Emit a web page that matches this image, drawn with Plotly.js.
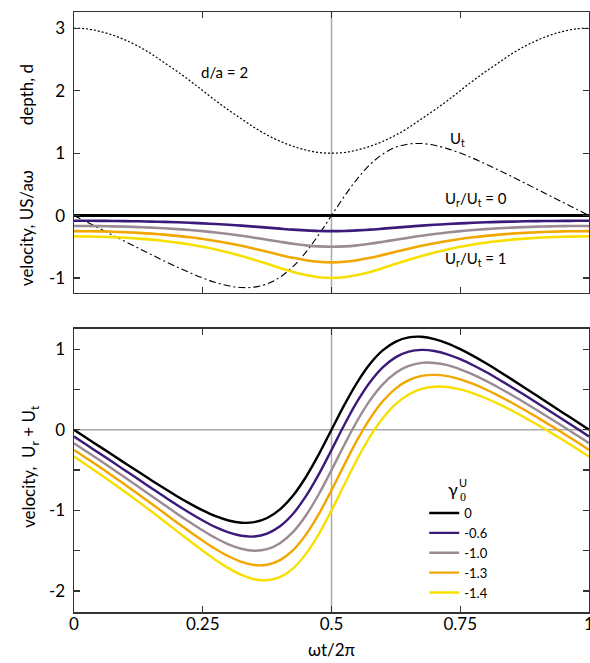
<!DOCTYPE html>
<html>
<head>
<meta charset="utf-8">
<script src="https://cdn.plot.ly/plotly-3.0.1.min.js"></script>
<style>html,body{margin:0;padding:0;background:#fff;}#chart{width:590px;height:663px;}</style>
</head>
<body>
<div id="chart"></div>
<script>
// phase omega t / 2 pi
const T = [0,0.025,0.05,0.075,0.1,0.125,0.15,0.175,0.2,0.225,0.25,0.275,0.3,0.325,0.35,0.375,0.4,0.425,0.45,0.475,0.5,0.525,0.55,0.575,0.6,0.625,0.65,0.675,0.7,0.725,0.75,0.775,0.8,0.825,0.85,0.875,0.9,0.925,0.95,0.975,1];

// top panel: depth d (dotted)
const depth = [3.00,2.99,2.95,2.89,2.81,2.71,2.59,2.45,2.31,2.16,2.00,1.84,1.69,1.55,1.41,1.29,1.19,1.11,1.05,1.01,1.00,1.01,1.05,1.11,1.19,1.29,1.41,1.55,1.69,1.84,2.00,2.16,2.31,2.45,2.59,2.71,2.81,2.89,2.95,2.99,3.00];

// tidal velocity U_t (dash-dot, also gamma = 0 in lower panel)
const Ut = [0,-0.105,-0.209,-0.314,-0.418,-0.522,-0.625,-0.726,-0.824,-0.916,-1.000,-1.072,-1.125,-1.153,-1.146,-1.094,-0.987,-0.819,-0.589,-0.309,0,0.309,0.589,0.819,0.987,1.094,1.146,1.153,1.125,1.072,1.000,0.916,0.824,0.726,0.625,0.522,0.418,0.314,0.209,0.105,0];

// top panel: U_r for each gamma
const Ur_0  = [0,0,0,0,0,0,0,0,0,0,0,0,0,0,0,0,0,0,0,0,0,0,0,0,0,0,0,0,0,0,0,0,0,0,0,0,0,0,0,0,0];
const Ur_06 = [-0.083,-0.084,-0.085,-0.087,-0.089,-0.092,-0.097,-0.102,-0.108,-0.116,-0.125,-0.136,-0.148,-0.162,-0.177,-0.193,-0.210,-0.226,-0.238,-0.247,-0.250,-0.247,-0.238,-0.226,-0.210,-0.193,-0.177,-0.162,-0.148,-0.136,-0.125,-0.116,-0.108,-0.102,-0.097,-0.092,-0.089,-0.087,-0.085,-0.084,-0.083];
const Ur_10 = [-0.167,-0.167,-0.169,-0.173,-0.178,-0.185,-0.193,-0.204,-0.217,-0.232,-0.250,-0.271,-0.296,-0.323,-0.354,-0.387,-0.420,-0.451,-0.477,-0.494,-0.500,-0.494,-0.477,-0.451,-0.420,-0.387,-0.354,-0.323,-0.296,-0.271,-0.250,-0.232,-0.217,-0.204,-0.193,-0.185,-0.178,-0.173,-0.169,-0.167,-0.167];
const Ur_13 = [-0.250,-0.251,-0.254,-0.259,-0.267,-0.277,-0.290,-0.306,-0.325,-0.348,-0.375,-0.407,-0.444,-0.485,-0.531,-0.580,-0.630,-0.677,-0.715,-0.741,-0.750,-0.741,-0.715,-0.677,-0.630,-0.580,-0.531,-0.485,-0.444,-0.407,-0.375,-0.348,-0.325,-0.306,-0.290,-0.277,-0.267,-0.259,-0.254,-0.251,-0.250];
const Ur_14 = [-0.333,-0.335,-0.339,-0.346,-0.356,-0.369,-0.386,-0.408,-0.433,-0.464,-0.500,-0.542,-0.591,-0.647,-0.708,-0.773,-0.840,-0.902,-0.953,-0.988,-1.000,-0.988,-0.953,-0.902,-0.840,-0.773,-0.708,-0.647,-0.591,-0.542,-0.500,-0.464,-0.433,-0.408,-0.386,-0.369,-0.356,-0.346,-0.339,-0.335,-0.333];

// bottom panel: U_r + U_t for each gamma
const S_0  = Ut;
const S_06 = [-0.083,-0.189,-0.294,-0.401,-0.507,-0.614,-0.722,-0.828,-0.932,-1.032,-1.125,-1.208,-1.273,-1.315,-1.323,-1.287,-1.197,-1.045,-0.827,-0.556,-0.250,0.062,0.351,0.593,0.777,0.901,0.969,0.991,0.977,0.936,0.875,0.800,0.716,0.624,0.528,0.430,0.329,0.227,0.124,0.021,-0.083];
const S_10 = [-0.167,-0.272,-0.378,-0.487,-0.596,-0.707,-0.818,-0.930,-1.041,-1.148,-1.250,-1.343,-1.421,-1.476,-1.500,-1.481,-1.407,-1.270,-1.066,-0.803,-0.500,-0.185,0.112,0.368,0.567,0.707,0.792,0.830,0.829,0.801,0.750,0.684,0.607,0.522,0.432,0.337,0.240,0.141,0.040,-0.062,-0.167];
const S_13 = [-0.250,-0.356,-0.463,-0.573,-0.685,-0.799,-0.915,-1.032,-1.149,-1.264,-1.375,-1.479,-1.569,-1.638,-1.677,-1.674,-1.617,-1.496,-1.304,-1.050,-0.750,-0.432,-0.126,0.142,0.357,0.514,0.615,0.668,0.681,0.665,0.625,0.568,0.499,0.420,0.335,0.245,0.151,0.055,-0.045,-0.146,-0.250];
const S_14 = [-0.333,-0.440,-0.548,-0.660,-0.774,-0.891,-1.011,-1.134,-1.257,-1.380,-1.500,-1.614,-1.716,-1.800,-1.854,-1.867,-1.827,-1.721,-1.542,-1.297,-1.000,-0.679,-0.364,-0.083,0.147,0.321,0.438,0.506,0.534,0.530,0.500,0.452,0.391,0.318,0.239,0.153,0.062,-0.032,-0.130,-0.230,-0.333];

const gammaLabels = ['0','-0.6','-1.0','-1.3','-1.4'];
const colors = ['#000000','#3b1a7a','#9b8b95','#f2a600','#f7e000'];

const xTickVals = [0,0.25,0.5,0.75,1];
const xTickText = ['0','0.25','0.5','0.75','1'];
const yTopVals = [-1,0,1,2,3];
const yTopText = ['-1','0','1','2','3'];
const yBotVals = [-2,-1.5,-1,-0.5,0,0.5,1];
const yBotText = ['-2','','-1','','0','','1'];

const FONT = 'Lato, "Open Sans", sans-serif';
const topUr = [Ur_0, Ur_06, Ur_10, Ur_13, Ur_14];
const botS = [S_0, S_06, S_10, S_13, S_14];

const traces = [];
traces.push({x:T, y:depth, xaxis:'x', yaxis:'y', mode:'lines', line:{color:'#000', width:1.2, dash:'2px,2px', shape:'spline'}, showlegend:false, hoverinfo:'skip'});
traces.push({x:T, y:Ut, xaxis:'x', yaxis:'y', mode:'lines', line:{color:'#000', width:1.1, dash:'7px,3px,2px,3px', shape:'spline'}, showlegend:false, hoverinfo:'skip'});
for (let i = 4; i >= 0; i--) {
  traces.push({x:T, y:topUr[i], xaxis:'x', yaxis:'y', mode:'lines', line:{color:colors[i], width: i===0 ? 3 : 2.6, shape:'spline'}, showlegend:false, hoverinfo:'skip'});
}
for (let i = 0; i < 5; i++) {
  traces.push({x:T, y:botS[i], xaxis:'x2', yaxis:'y2', mode:'lines', name:gammaLabels[i], line:{color:colors[i], width:2.4, shape:'spline'}, showlegend:true, legendrank:i+1});
}

const axisCommon = {showline:true, linecolor:'#333', linewidth:1.5, mirror:'ticks', ticks:'inside', ticklen:6, tickwidth:1.2, tickcolor:'#333', showgrid:false, zeroline:false, ticklabeloverflow:'allow', tickfont:{family:FONT, size:17, color:'#000'}};

const layout = {
  width:590, height:663,
  margin:{l:74, r:1, t:12, b:51},
  paper_bgcolor:'#fff', plot_bgcolor:'#fff',
  font:{family:FONT, color:'#000'},
  xaxis: Object.assign({}, axisCommon, {domain:[0,1], range:[0,1], tickvals:xTickVals, ticktext:xTickText, showticklabels:false, anchor:'y'}),
  yaxis: Object.assign({}, axisCommon, {domain:[0.5317,1], range:[-1.24,3.26], tickvals:yTopVals, ticktext:yTopText, anchor:'x', ticklabelstandoff:4}),
  xaxis2: Object.assign({}, axisCommon, {domain:[0,1], range:[0,1], tickvals:xTickVals, ticktext:xTickText, anchor:'y2', ticklabelstandoff:-4}),
  yaxis2: Object.assign({}, axisCommon, {domain:[0,0.4717], range:[-2.26,1.25], tickvals:yBotVals, ticktext:yBotText, anchor:'x2', ticklabelstandoff:4}),
  showlegend:true,
  legend:{x:0.68, y:0.19, xanchor:'left', yanchor:'top', bgcolor:'rgba(0,0,0,0)', font:{family:FONT, size:13}, tracegroupgap:0},
  shapes:[
    {type:'line', xref:'x', yref:'y domain', x0:0.5, x1:0.5, y0:0, y1:1, line:{color:'#aaaaaa', width:1.5}, layer:'below'},
    {type:'line', xref:'x2', yref:'y2 domain', x0:0.5, x1:0.5, y0:0, y1:1, line:{color:'#aaaaaa', width:1.5}, layer:'below'},
    {type:'line', xref:'x2 domain', yref:'y2', x0:0, x1:1, y0:0, y1:0, line:{color:'#aaaaaa', width:1.5}, layer:'below'}
  ],
  annotations:[
    {xref:'x', yref:'y', x:0.293, y:2.30, text:'d/a = 2', showarrow:false, font:{family:FONT, size:15}},
    {xref:'x', yref:'y', x:0.726, y:1.22, text:'U<sub>t</sub>', showarrow:false, xanchor:'left', font:{family:FONT, size:15}},
    {xref:'x', yref:'y', x:0.717, y:0.26, text:'U<sub>r</sub>/U<sub>t</sub> = 0', showarrow:false, xanchor:'left', font:{family:FONT, size:15}},
    {xref:'x', yref:'y', x:0.717, y:-0.70, text:'U<sub>r</sub>/U<sub>t</sub> = 1', showarrow:false, xanchor:'left', font:{family:FONT, size:15}},
    {xref:'paper', yref:'y', x:-0.093, y:1.93, xanchor:'center', yanchor:'middle', text:'depth, d', textangle:-90, showarrow:false, font:{family:FONT, size:17}},
    {xref:'paper', yref:'y', x:-0.093, y:-0.2, xanchor:'center', yanchor:'middle', text:'velocity, US/aω', textangle:-90, showarrow:false, font:{family:FONT, size:17}},
    {xref:'paper', yref:'y2', x:-0.085, y:-0.46, xanchor:'center', yanchor:'middle', text:'velocity,  U<sub>r</sub> + U<sub>t</sub>', textangle:-90, showarrow:false, font:{family:FONT, size:17}},
    {xref:'x2', yref:'paper', x:0.5, y:-0.063, xanchor:'center', yanchor:'middle', text:'ωt/2π', showarrow:false, font:{family:FONT, size:17}},
    // legend title gamma_0^U
    {xref:'x2', yref:'paper', x:0.736, y:0.205, xanchor:'center', yanchor:'middle', text:'γ', showarrow:false, font:{family:FONT, size:18}},
    {xref:'x2', yref:'paper', x:0.756, y:0.216, xanchor:'center', yanchor:'middle', text:'U', showarrow:false, font:{family:FONT, size:11}},
    {xref:'x2', yref:'paper', x:0.756, y:0.191, xanchor:'center', yanchor:'middle', text:'0', showarrow:false, font:{family:'"Liberation Serif", serif', size:12}}
  ]
};

Plotly.newPlot('chart', traces, layout, {staticPlot:true, displayModeBar:false});
</script>
</body>
</html>
